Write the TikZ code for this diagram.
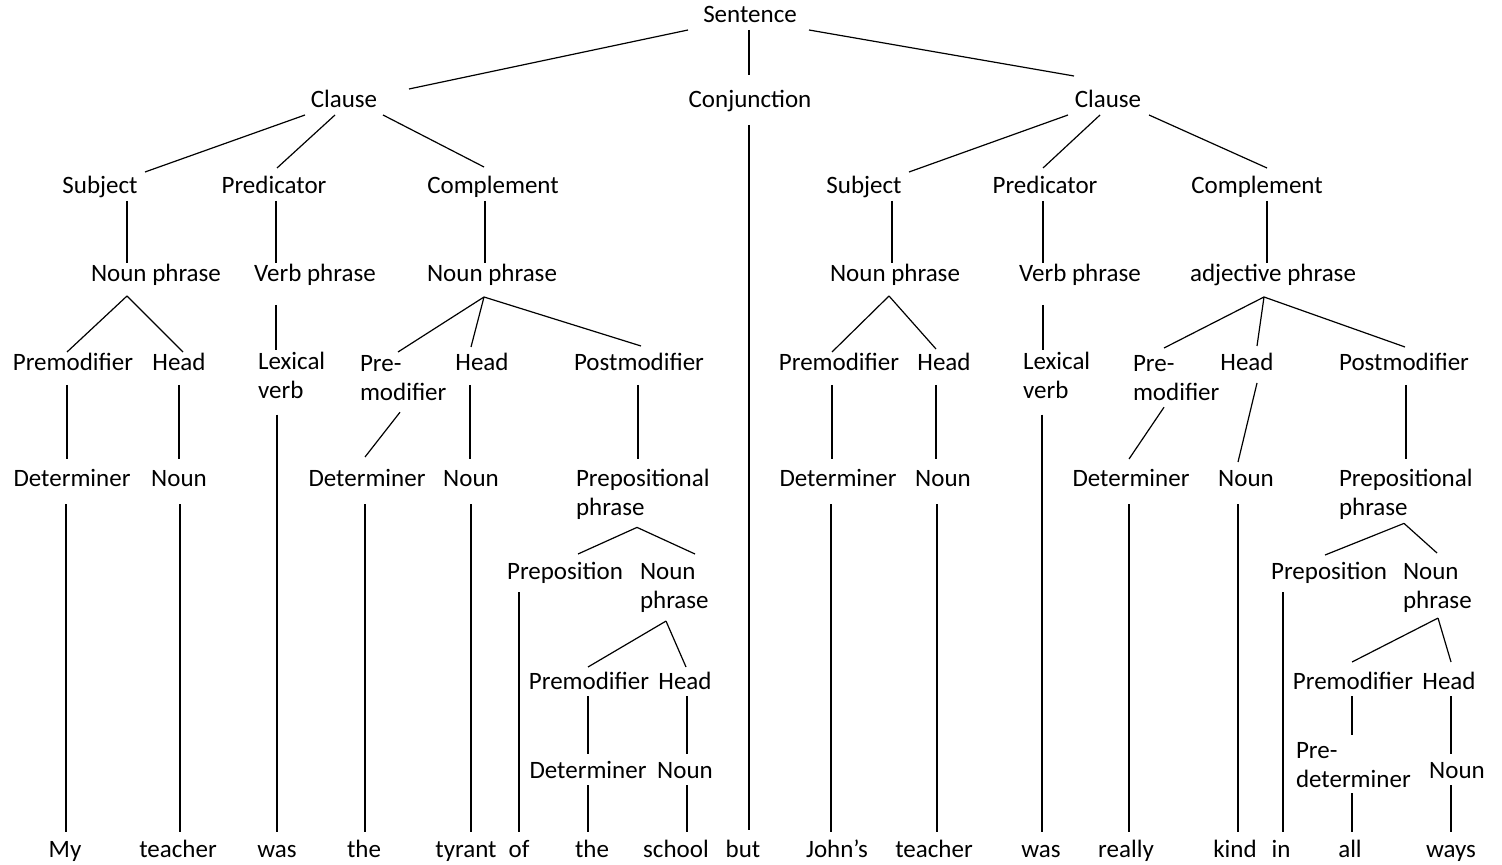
\documentclass[tikz,border=0pt]{standalone}
\usepackage{fontspec}
\setmainfont{Carlito}
\newcommand{\treefont}{\fontsize{12.5}{14.5}\selectfont}

\begin{document}
\begin{tikzpicture}[x=0.5pt, y=-0.5pt, line width=0.6pt,
  lab/.style={font=\treefont, inner sep=0pt, outer sep=0pt},
  one/.style={lab, anchor=base, text height=9.5pt, text depth=3.5pt},
  two/.style={lab, anchor=north west, align=left}]
  \useasboundingbox (0,0) rectangle (1502,865);

  % Sentence and its parts
  \node[one] (sent) at (750,23) {Sentence};
  \node[one] (clauseL) at (344,108) {Clause};
  \node[one] (conj) at (750,108) {Conjunction};
  \node[one] (clauseR) at (1108,108) {Clause};

  % Clause functions
  \node[one] (subjL) at (100,194) {Subject};
  \node[one] (predL) at (274,194) {Predicator};
  \node[one] (compL) at (493,194) {Complement};
  \node[one] (subjR) at (864,194) {Subject};
  \node[one] (predR) at (1045,194) {Predicator};
  \node[one] (compR) at (1257,194) {Complement};

  % Phrases
  \node[one] (npL1) at (156,282) {Noun phrase};
  \node[one] (vpL) at (315,282) {Verb phrase};
  \node[one] (npL2) at (492,282) {Noun phrase};
  \node[one] (npR) at (895,282) {Noun phrase};
  \node[one] (vpR) at (1080,282) {Verb phrase};
  \node[one] (adjR) at (1273,282) {adjective phrase};

  % Phrase elements
  \node[one] (premL) at (73,371) {Premodifier};
  \node[one] (headL) at (179,371) {Head};
  \node[two] (lexL) at (258,352) {Lexical\\verb};
  \node[two] (pmodL) at (360,355) {Pre-\\modifier};
  \node[one] (headL2) at (482,371) {Head};
  \node[one] (postL) at (639,371) {Postmodifier};
  \node[one] (premR) at (839,371) {Premodifier};
  \node[one] (headR) at (944,371) {Head};
  \node[two] (lexR) at (1023,352) {Lexical\\verb};
  \node[two] (pmodR) at (1133,355) {Pre-\\modifier};
  \node[one] (headR2) at (1247,371) {Head};
  \node[one] (postR) at (1404,371) {Postmodifier};

  % Word classes
  \node[one] (detL1) at (72,486) {Determiner};
  \node[one] (nounL1) at (179,486) {Noun};
  \node[one] (detL2) at (367,486) {Determiner};
  \node[one] (nounL2) at (471,486) {Noun};
  \node[two] (ppL) at (576,469) {Prepositional\\phrase};
  \node[one] (detR1) at (838,486) {Determiner};
  \node[one] (nounR1) at (943,486) {Noun};
  \node[one] (detR2) at (1131,486) {Determiner};
  \node[one] (nounR2) at (1246,486) {Noun};
  \node[two] (ppR) at (1339,469) {Prepositional\\phrase};

  % Inside the prepositional phrases
  \node[one] (prepL) at (565,579) {Preposition};
  \node[two] (nphL) at (640,563) {Noun\\phrase};
  \node[one] (premL3) at (589,689) {Premodifier};
  \node[one] (headL3) at (685,689) {Head};
  \node[one] (detL3) at (588,778) {Determiner};
  \node[one] (nounL3) at (685,778) {Noun};
  \node[one] (prepR) at (1329,579) {Preposition};
  \node[two] (nphR) at (1403,563) {Noun\\phrase};
  \node[one] (premR3) at (1353,689) {Premodifier};
  \node[one] (headR3) at (1449,689) {Head};
  \node[two] (predet) at (1296,742) {Pre-\\determiner};
  \node[one] (nounR3) at (1457,778) {Noun};

  % Words
  \node[one] (wMy) at (65,857) {My};
  \node[one] (wTeacherL) at (178,857) {teacher};
  \node[one] (wWasL) at (277,857) {was};
  \node[one] (wTheL) at (364,857) {the};
  \node[one] (wTyrant) at (466,857) {tyrant};
  \node[one] (wOf) at (519,857) {of};
  \node[one] (wTheL2) at (592,857) {the};
  \node[one] (wSchool) at (676,857) {school};
  \node[one] (wBut) at (743,857) {but};
  \node[one] (wJohns) at (837,857) {John’s};
  \node[one] (wTeacherR) at (934,857) {teacher};
  \node[one] (wWasR) at (1041,857) {was};
  \node[one] (wReally) at (1126,857) {really};
  \node[one] (wKind) at (1235,857) {kind};
  \node[one] (wIn) at (1281,857) {in};
  \node[one] (wAll) at (1350,857) {all};
  \node[one] (wWays) at (1451,857) {ways};

  % Top branches
  \draw (sent.south -| 688,0) -- (clauseL.north -| 409,0);
  \draw[shorten >=7pt] (sent.south -| 749,0) -- (conj.north -| 749,0);
  \draw (sent.south -| 809,0) -- ([yshift=6.5pt]clauseR.north -| 1074,0);
  \draw[shorten <=5pt, shorten >=4pt] (conj.south -| 749,0) -- (wBut.north -| 749,0);

  % Left clause
  \draw (clauseL.south -| 305,0) -- ([yshift=1.5pt]subjL.north -| 145,0);
  \draw (clauseL.south -| 335,0) -- ([yshift=3.5pt]predL.north -| 277,0);
  \draw (clauseL.south -| 383,0) -- ([yshift=4pt]compL.north -| 484,0);
  \draw (subjL.south -| 127,0) -- (npL1.north -| 127,0);
  \draw (predL.south -| 276,0) -- (vpL.north -| 276,0);
  \draw (compL.south -| 485,0) -- (npL2.north -| 485,0);

  \draw ([yshift=-3.5pt]npL1.south -| 127,0) -- (premL.north -| 67,0);
  \draw ([yshift=-3.5pt]npL1.south -| 127,0) -- (headL.north -| 183,0);
  \draw[shorten <=8pt, shorten >=1pt] (vpL.south -| 276,0) -- (lexL.north -| 276,0);
  \draw ([yshift=-4pt]npL2.south -| 484,0) -- ([yshift=1.5pt]pmodL.north -| 398,0);
  \draw ([yshift=-4pt]npL2.south -| 484,0) -- ([yshift=2.5pt]headL2.north -| 471,0);
  \draw ([yshift=-4pt]npL2.south -| 484,0) -- ([yshift=3pt]postL.north -| 641,0);

  \draw[shorten <=3.5pt, shorten >=4pt] (premL.south -| 67,0) -- (detL1.north -| 67,0);
  \draw[shorten <=3.5pt, shorten >=4pt] (headL.south -| 179,0) -- (nounL1.north -| 179,0);
  \draw ([yshift=-6pt]pmodL.south -| 400,0) -- ([yshift=5pt]detL2.north -| 365,0);
  \draw[shorten <=3.5pt, shorten >=4pt] (headL2.south -| 470,0) -- (nounL2.north -| 470,0);
  \draw[shorten <=3.5pt, shorten >=5pt] (postL.south -| 638,0) -- (ppL.north -| 638,0);

  \draw[shorten <=5.5pt, shorten >=3pt] (detL1.south -| 66,0) -- (wMy.north -| 66,0);
  \draw[shorten <=5.5pt, shorten >=3pt] (nounL1.south -| 180,0) -- (wTeacherL.north -| 180,0);
  \draw[shorten <=8pt, shorten >=3pt] (lexL.south -| 277,0) -- (wWasL.north -| 277,0);
  \draw[shorten <=5.5pt, shorten >=3pt] (detL2.south -| 365,0) -- (wTheL.north -| 365,0);
  \draw[shorten <=5.5pt, shorten >=3pt] (nounL2.south -| 471,0) -- (wTyrant.north -| 471,0);

  \draw ([yshift=-4pt]ppL.south -| 637,0) -- ([yshift=3pt]prepL.north -| 578,0);
  \draw ([yshift=-4pt]ppL.south -| 637,0) -- ([yshift=4.5pt]nphL.north -| 695,0);
  \draw[shorten <=3pt, shorten >=3pt] (prepL.south -| 519,0) -- (wOf.north -| 519,0);
  \draw ([yshift=-4.5pt]nphL.south -| 666,0) -- ([yshift=1.5pt]premL3.north -| 588,0);
  \draw ([yshift=-4.5pt]nphL.south -| 666,0) -- ([yshift=1.5pt]headL3.north -| 686,0);
  \draw[shorten >=2.5pt] (premL3.south -| 588,0) -- (detL3.north -| 588,0);
  \draw[shorten >=2.5pt] (headL3.south -| 687,0) -- (nounL3.north -| 687,0);
  \draw[shorten >=3pt] (detL3.south -| 588,0) -- (wTheL2.north -| 588,0);
  \draw[shorten >=3pt] (nounL3.south -| 687,0) -- (wSchool.north -| 687,0);

  % Right clause
  \draw (clauseR.south -| 1068,0) -- ([yshift=1.5pt]subjR.north -| 909,0);
  \draw (clauseR.south -| 1100,0) -- ([yshift=3.5pt]predR.north -| 1043,0);
  \draw (clauseR.south -| 1149,0) -- ([yshift=3.5pt]compR.north -| 1267,0);
  \draw (subjR.south -| 892,0) -- (npR.north -| 892,0);
  \draw (predR.south -| 1043,0) -- (vpR.north -| 1043,0);
  \draw (compR.south -| 1267,0) -- (adjR.north -| 1267,0);

  \draw ([yshift=-3.5pt]npR.south -| 889,0) -- (premR.north -| 832,0);
  \draw ([yshift=-3.5pt]npR.south -| 889,0) -- ([yshift=1.5pt]headR.north -| 936,0);
  \draw[shorten <=8pt, shorten >=1pt] (vpR.south -| 1043,0) -- (lexR.north -| 1043,0);
  \draw ([yshift=-4pt]adjR.south -| 1264,0) -- ([yshift=3.5pt]pmodR.north -| 1164,0);
  \draw ([yshift=-4pt]adjR.south -| 1264,0) -- ([yshift=3pt]headR2.north -| 1257,0);
  \draw ([yshift=-4pt]adjR.south -| 1264,0) -- ([yshift=2.5pt]postR.north -| 1405,0);

  \draw[shorten <=3.5pt, shorten >=4pt] (premR.south -| 832,0) -- (detR1.north -| 832,0);
  \draw[shorten <=3.5pt, shorten >=4pt] (headR.south -| 936,0) -- (nounR1.north -| 936,0);
  \draw ([yshift=-3.5pt]pmodR.south -| 1164,0) -- ([yshift=4pt]detR2.north -| 1129,0);
  \draw ([yshift=-2.5pt]headR2.south -| 1257,0) -- ([yshift=2.5pt]nounR2.north -| 1238,0);
  \draw[shorten <=3.5pt, shorten >=5pt] (postR.south -| 1406,0) -- (ppR.north -| 1406,0);

  \draw[shorten <=5.5pt, shorten >=3pt] (detR1.south -| 831,0) -- (wJohns.north -| 831,0);
  \draw[shorten <=5.5pt, shorten >=3pt] (nounR1.south -| 937,0) -- (wTeacherR.north -| 937,0);
  \draw[shorten <=8pt, shorten >=3pt] (lexR.south -| 1042,0) -- (wWasR.north -| 1042,0);
  \draw[shorten <=5.5pt, shorten >=3pt] (detR2.south -| 1129,0) -- (wReally.north -| 1129,0);
  \draw[shorten <=5.5pt, shorten >=3pt] (nounR2.south -| 1238,0) -- (wKind.north -| 1238,0);

  \draw ([yshift=-2pt]ppR.south -| 1404,0) -- ([yshift=2.5pt]prepR.north -| 1325,0);
  \draw ([yshift=-2pt]ppR.south -| 1404,0) -- ([yshift=5pt]nphR.north -| 1437,0);
  \draw[shorten <=3pt, shorten >=3pt] (prepR.south -| 1283,0) -- (wIn.north -| 1283,0);
  \draw ([yshift=-3pt]nphR.south -| 1438,0) -- ([yshift=4pt]premR3.north -| 1352,0);
  \draw ([yshift=-3pt]nphR.south -| 1438,0) -- ([yshift=4pt]headR3.north -| 1451,0);
  \draw[shorten >=3.5pt] (premR3.south -| 1352,0) -- (predet.north -| 1352,0);
  \draw[shorten >=2.5pt] (headR3.south -| 1451,0) -- (nounR3.north -| 1451,0);
  \draw[shorten <=3pt, shorten >=3pt] (predet.south -| 1352,0) -- (wAll.north -| 1352,0);
  \draw[shorten >=3pt] (nounR3.south -| 1451,0) -- (wWays.north -| 1451,0);
\end{tikzpicture}
\end{document}
